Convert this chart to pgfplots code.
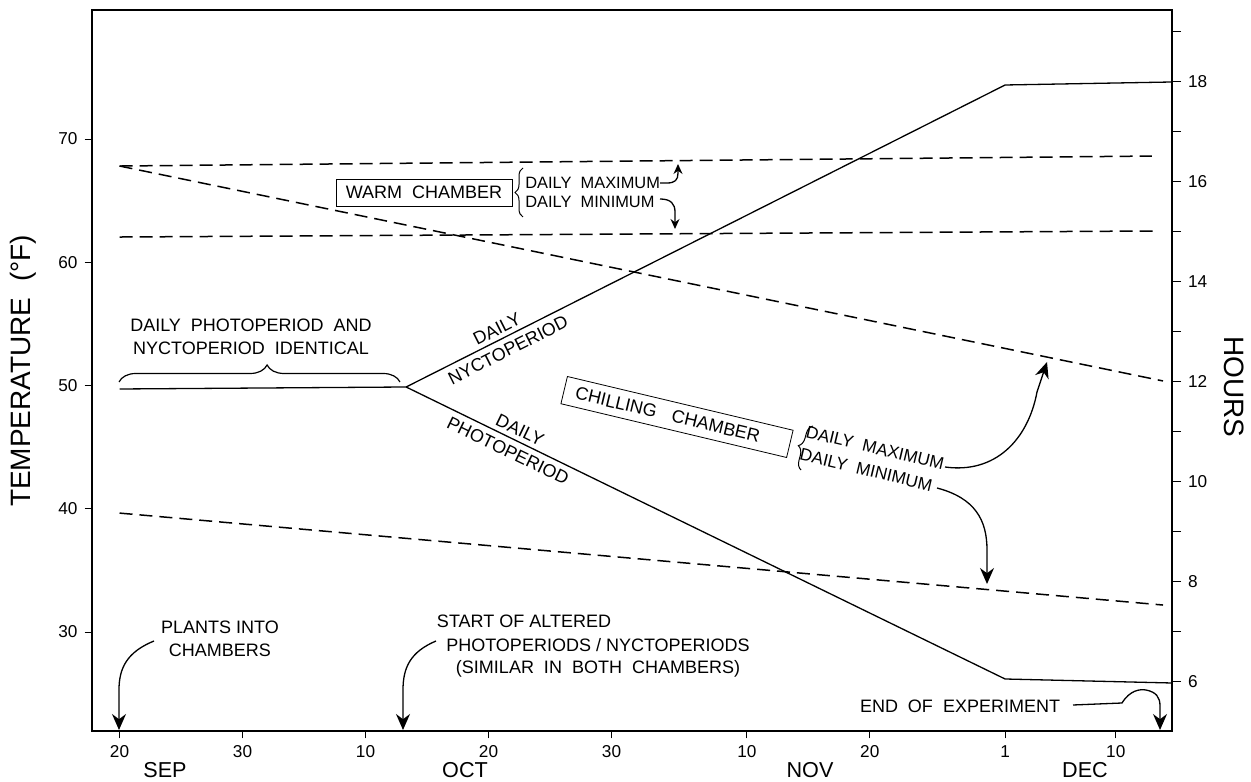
\documentclass[border=0pt]{standalone}
\usepackage{fontspec}
\setmainfont{Liberation Sans}
\usepackage{pgfplots}
\usepackage{pgfplotstable}
\pgfplotsset{compat=1.18}
\usetikzlibrary{decorations.pathreplacing,arrows.meta}

% x = days after 20 September; left axis: temperature (F); right axis: hours
\pgfplotstableread{
x y
0 67.81
83.94 68.62
}\warmmax
\pgfplotstableread{
x y
0 62.05
84.35 62.54
}\warmmin
\pgfplotstableread{
x y
0 67.81
84.84 50.37
}\chillmax
\pgfplotstableread{
x y
0 39.65
84.84 32.19
}\chillmin
\pgfplotstableread{
x y
0 11.86
23.3 11.90
}\identical
\pgfplotstableread{
x y
23.3 11.90
72.0 17.94
85.57 18.00
}\nycto
\pgfplotstableread{
x y
23.3 11.90
72.0 6.06
85.57 5.98
}\photo

\tikzset{
  dashpat/.style={line width=0.75pt, dash pattern=on 6.5pt off 3.5pt},
  solidl/.style={line width=0.65pt},
  ann/.style={inner sep=0pt, font=\fontsize{9}{11}\selectfont},
  arr/.style={line width=0.65pt, -{Stealth[length=8pt,width=7pt]}},
  sarr/.style={line width=0.65pt, -{Stealth[length=5pt,width=4.5pt]}},
}

\begin{document}
\begin{tikzpicture}
\begin{axis}[
  scale only axis, width=540pt, height=360.5pt,
  xmin=-2.24, xmax=85.57, ymin=21.97, ymax=80.47,
  axis line style={line width=0.85pt},
  xtick={0,10,20,30,40,51,61,72,81},
  xticklabels={20,30,10,20,30,10,20,1,10},
  ytick={30,40,50,60,70},
  xtick pos=left, ytick pos=left,
  tick align=outside, major tick length=3.7pt,
  tick style={line width=0.5pt, black},
  ticklabel style={font=\fontsize{8.6}{10}\selectfont},
  /pgf/number format/assume math mode=true,
]
\addplot[dashpat] table {\warmmax};
\addplot[dashpat] table {\warmmin};
\addplot[dashpat] table {\chillmax};
\addplot[dashpat] table {\chillmin};
\end{axis}
\begin{axis}[
  scale only axis, width=540pt, height=360.5pt,
  xmin=-2.24, xmax=85.57, ymin=5.02, ymax=19.44,
  axis x line=none, axis y line*=right,
  axis line style={line width=0.85pt, -},
  ytick={6,8,10,12,14,16,18}, minor ytick={7,9,11,13,15,17,19},
  tick align=outside, major tick length=4.5pt, minor tick length=4.5pt,
  tick style={line width=0.5pt, black},
  ticklabel style={font=\fontsize{8.6}{10}\selectfont},
  /pgf/number format/assume math mode=true,
]
\addplot[solidl] table {\identical};
\addplot[solidl] table {\nycto};
\addplot[solidl] table {\photo};
\end{axis}

\begin{scope}[x=0.5pt,y=-0.5pt,shift={(-46pt,365.5pt)}]
% axis titles
\node[rotate=90, inner sep=0pt, font=\fontsize{14}{16}\selectfont] at (23,371) {TEMPERATURE~~(°F)};
\node[rotate=-90, inner sep=0pt, font=\fontsize{14}{16}\selectfont] at (1234,387) {HOURS};
% months
\node[inner sep=0pt, font=\fontsize{10.8}{12}\selectfont] at (165,770.5) {SEP};
\node[inner sep=0pt, font=\fontsize{10.8}{12}\selectfont] at (465,770.5) {OCT};
\node[inner sep=0pt, font=\fontsize{10.8}{12}\selectfont] at (810,770.5) {NOV};
\node[inner sep=0pt, font=\fontsize{10.8}{12}\selectfont] at (1085,770.5) {DEC};

% identical period annotation
\node[ann] at (251,325) {DAILY~~PHOTOPERIOD~~AND};
\node[ann] at (251,348) {NYCTOPERIOD~~IDENTICAL};
\draw[line width=0.6pt, decorate, decoration={brace, amplitude=8.5pt, aspect=0.527}] (119,382) -- (400,382);

% line labels
\node[ann, rotate=26.8] at (497,329) {DAILY};
\node[ann, rotate=26.8] at (508,350) {NYCTOPERIOD};
\node[ann, rotate=-25.8] at (520,430) {DAILY};
\node[ann, rotate=-25.8] at (508,451) {PHOTOPERIOD};

% warm chamber
\node[draw, line width=0.4pt, minimum width=88pt, minimum height=13.5pt, inner sep=0pt, font=\fontsize{9}{11}\selectfont] at (424,192.5) {WARM\hspace{5pt}CHAMBER};
\draw[line width=0.5pt, decorate, decoration={brace, amplitude=4pt}] (523,217) -- (523,168);
\node[ann, anchor=west, font=\fontsize{8.2}{10}\selectfont] at (525,183) {DAILY~~MAXIMUM};
\node[ann, anchor=west, font=\fontsize{8.2}{10}\selectfont] at (525,202) {DAILY~~MINIMUM};
\draw[sarr] (660,183) -- (667,183) .. controls (675,183) and (678,180) .. (678,173) -- (678,164);
\draw[sarr] (660,199) .. controls (671,199) and (675,204) .. (675,212) -- (675,229);

% chilling chamber
\node[draw, line width=0.4pt, rotate=-13.4, minimum height=14pt, text width=104pt, inner xsep=6pt, inner ysep=0pt, align=left, font=\fontsize{9}{11}\selectfont] at (677,417) {CHILLING\hspace{8pt}CHAMBER};
\draw[line width=0.5pt, decorate, decoration={brace, amplitude=4.5pt}] (801,470) -- (813,426);
\node[ann, rotate=-13.4, font=\fontsize{8.6}{10}\selectfont] at (875,448) {DAILY~~MAXIMUM};
\node[ann, rotate=-13.4, font=\fontsize{8.6}{10}\selectfont] at (866,470) {DAILY~~MINIMUM};
\draw[arr] (945,467) .. controls (995,474) and (1028,440) .. (1037,392) -- (1047,362);
\draw[arr] (937,488) .. controls (975,498) and (987,520) .. (987,550) -- (987,584);

% bottom annotations
\node[ann] at (220,627) {PLANTS INTO};
\node[ann] at (220,650) {CHAMBERS};
\draw[arr] (154,641) .. controls (127,652) and (119,668) .. (119,690) -- (119,730);
\node[ann] at (524,621) {START OF ALTERED};
\node[ann] at (598,645) {PHOTOPERIODS / NYCTOPERIODS};
\node[ann] at (598,669) {(SIMILAR~~IN~~BOTH~~CHAMBERS)};
\draw[arr] (436,641) .. controls (410,652) and (403,668) .. (403,690) -- (403,730);
\node[ann] at (960,706) {END~~OF~~EXPERIMENT};
\draw[arr] (1073,705) -- (1122,703) .. controls (1130,690) and (1140,689) .. (1146,690) .. controls (1156,692) and (1160,697) .. (1160,706) -- (1160,730);

\pgfresetboundingbox
\path (0,0) rectangle (1251,781);
\end{scope}
\end{tikzpicture}
\end{document}
